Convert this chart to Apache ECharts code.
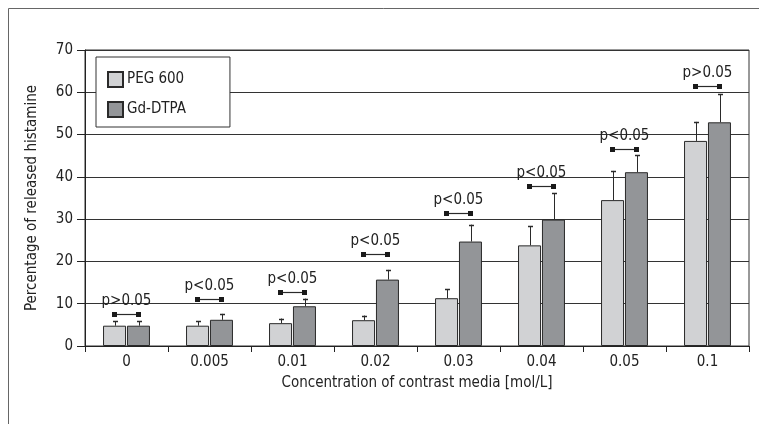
<!DOCTYPE html>
<html>
<head>
<meta charset="utf-8">
<script src="https://cdn.jsdelivr.net/npm/echarts@6/dist/echarts.min.js"></script>
<style>html,body{margin:0;padding:0;background:#fff}#c{width:759px;height:424px}</style>
</head>
<body>
<div id="c"></div>
<script>
var categories = ['0', '0.005', '0.01', '0.02', '0.03', '0.04', '0.05', '0.1'];
var pegValues = [4.8, 4.8, 5.4, 6.1, 11.3, 23.8, 34.5, 48.5];
var pegErrors = [1.1, 1.1, 1.1, 1.1, 2.1, 4.5, 6.9, 4.5];
var gdValues = [4.8, 6.2, 9.4, 15.7, 24.7, 29.9, 41.1, 52.9];
var gdErrors = [1.1, 1.4, 1.8, 2.3, 4.0, 6.2, 4.0, 6.7];
var pLabels = ['p>0.05', 'p<0.05', 'p<0.05', 'p<0.05', 'p<0.05', 'p<0.05', 'p<0.05', 'p>0.05'];
var pLevels = [7.5, 11.2, 12.7, 21.7, 31.4, 37.8, 46.5, 61.6];
var yTicks = [0, 10, 20, 30, 40, 50, 60, 70];

var FONT = '"DejaVu Sans Condensed", "Liberation Sans Narrow", "Noto Sans", sans-serif';
var FS = 15;
var BAR_W = 23;
var OFF = 12;

var errData = [];
for (var i = 0; i < categories.length; i++) {
  errData.push([i, pegValues[i], pegErrors[i], -1]);
  errData.push([i, gdValues[i], gdErrors[i], 1]);
}
var pData = pLevels.map(function (v, i) { return [i, v, pLabels[i]]; });

var chart = echarts.init(document.getElementById('c'));
chart.setOption({
  animation: false,
  textStyle: { fontFamily: FONT },
  graphic: [{
    type: 'polyline',
    shape: { points: [[8.5, 424], [8.5, 8.5], [759, 8.5]] },
    style: { stroke: '#666', lineWidth: 1, fill: null },
    silent: true
  }],
  grid: { left: 85, right: 10, top: 50, bottom: 78, show: true, borderColor: '#333', borderWidth: 1 },
  legend: {
    left: 96, top: 57,
    orient: 'vertical',
    itemWidth: 15, itemHeight: 15, itemGap: 13,
    padding: [14, 44, 9, 11],
    backgroundColor: '#fff', borderColor: '#333', borderWidth: 1,
    icon: 'rect',
    textStyle: { fontFamily: FONT, fontSize: FS, color: '#222', padding: [0, 0, 0, -1] },
    data: ['PEG 600', 'Gd-DTPA']
  },
  xAxis: {
    type: 'category',
    data: categories,
    name: 'Concentration of contrast media [mol/L]',
    nameLocation: 'middle',
    nameGap: 30,
    nameTextStyle: { fontFamily: FONT, fontSize: FS, color: '#222' },
    axisLine: { lineStyle: { color: '#222', width: 1 } },
    axisTick: { show: true, length: 6, lineStyle: { color: '#222' } },
    axisLabel: { fontFamily: FONT, fontSize: FS, color: '#222', margin: 9 },
    splitLine: { show: false }
  },
  yAxis: {
    type: 'value',
    min: 0, max: 70, interval: 10,
    name: 'Percentage of released histamine',
    nameLocation: 'middle',
    nameGap: 45,
    nameRotate: 90,
    nameTextStyle: { fontFamily: FONT, fontSize: FS, color: '#222' },
    axisLine: { show: true, lineStyle: { color: '#222', width: 1 } },
    axisTick: { show: true, length: 8, lineStyle: { color: '#222' } },
    axisLabel: {
      fontFamily: FONT, fontSize: FS, color: '#222', margin: 12,
      formatter: function (v) { return yTicks.indexOf(v) >= 0 ? String(v) : ''; }
    },
    splitLine: { show: true, lineStyle: { color: '#333', width: 1 } }
  },
  series: [
    {
      name: 'PEG 600', type: 'bar', data: pegValues,
      barWidth: BAR_W, barGap: '4%',
      itemStyle: { color: '#d1d2d4', borderColor: '#2a2a2a', borderWidth: 1 }
    },
    {
      name: 'Gd-DTPA', type: 'bar', data: gdValues,
      barWidth: BAR_W, barGap: '4%',
      itemStyle: { color: '#939598', borderColor: '#2a2a2a', borderWidth: 1 }
    },
    {
      type: 'custom',
      data: errData,
      z: 5,
      encode: { x: 0, y: 1 },
      renderItem: function (params, api) {
        var idx = api.value(0), v = api.value(1), e = api.value(2), side = api.value(3);
        var p0 = api.coord([idx, v]);
        var p1 = api.coord([idx, v + e]);
        var x = Math.round(p0[0] + side * OFF) + 0.5;
        var st = { stroke: '#2a2a2a', lineWidth: 1 };
        return {
          type: 'group',
          children: [
            { type: 'line', shape: { x1: x, y1: p0[1], x2: x, y2: p1[1] }, style: st },
            { type: 'line', shape: { x1: x - 2.5, y1: Math.round(p1[1]) + 0.5, x2: x + 2.5, y2: Math.round(p1[1]) + 0.5 }, style: { stroke: '#2a2a2a', lineWidth: 1.5 } }
          ]
        };
      }
    },
    {
      type: 'custom',
      data: pData,
      z: 6,
      encode: { x: 0, y: 1 },
      renderItem: function (params, api) {
        var idx = api.value(0), v = api.value(1);
        var txt = pLabels[params.dataIndex];
        var c = api.coord([idx, v]);
        var xl = c[0] - OFF, xr = c[0] + OFF, y = Math.round(c[1]) + 0.5;
        return {
          type: 'group',
          children: [
            { type: 'line', shape: { x1: xl, y1: y, x2: xr, y2: y }, style: { stroke: '#2a2a2a', lineWidth: 1.2 } },
            { type: 'rect', shape: { x: xl - 2.5, y: y - 2.5, width: 5, height: 5 }, style: { fill: '#1a1a1a' } },
            { type: 'rect', shape: { x: xr - 2.5, y: y - 2.5, width: 5, height: 5 }, style: { fill: '#1a1a1a' } },
            { type: 'text', x: c[0], y: y - 13, style: { text: txt, fill: '#222', font: FS + 'px ' + FONT, align: 'center', verticalAlign: 'middle' } }
          ]
        };
      }
    }
  ]
});
</script>
</body>
</html>
